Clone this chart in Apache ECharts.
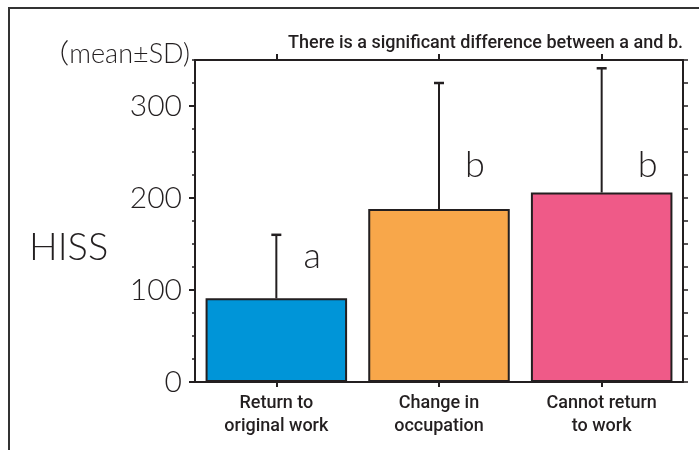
<!DOCTYPE html>
<html>
<head>
<meta charset="utf-8">
<script src="https://cdn.jsdelivr.net/npm/echarts@6/dist/echarts.min.js"></script>
<style>
  html, body { margin: 0; padding: 0; background: #fff; }
  #chart { width: 699px; height: 450px; }
</style>
</head>
<body>
<div id="chart"></div>
<script>
//--------------------------------
// Data
//--------------------------------
const categories = ['Return to\noriginal work', 'Change in\noccupation', 'Cannot return\nto work'];
const means = [91, 188, 206];
const sds = [69, 137, 135];
const letters = ['a', 'b', 'b'];
const letterAt = [137, 235, 235];
const barColors = ['#0095d8', '#f8a74a', '#ef5a88'];

//--------------------------------
// Styles
//--------------------------------
const ink = '#231f20';
const lightFont = 'Lato, "Noto Sans CJK JP", sans-serif';
const narrowFont = 'Roboto, sans-serif';

const myChart = echarts.init(document.getElementById('chart'), null, { renderer: 'canvas' });

const errorItem = (params, api) => {
    const i = api.value(0);
    const base = api.coord([i, api.value(1)]);
    const top = api.coord([i, api.value(1) + api.value(2)]);
    return {
        type: 'group',
        children: [
            { type: 'line', shape: { x1: base[0], y1: base[1], x2: top[0], y2: top[1] },
              style: { stroke: ink, lineWidth: 2 } },
            { type: 'line', shape: { x1: top[0] - 5, y1: top[1], x2: top[0] + 5, y2: top[1] },
              style: { stroke: ink, lineWidth: 2.5 } }
        ]
    };
};

const letterItem = (params, api) => {
    const p = api.coord([api.value(0), api.value(1)]);
    const off = [36, 36, 46][params.dataIndex];
    return {
        type: 'text',
        x: p[0] + off,
        y: p[1],
        style: {
            text: letters[params.dataIndex],
            fill: ink,
            font: '300 36px ' + lightFont,
            align: 'center',
            verticalAlign: 'middle'
        }
    };
};

let options = {
    animation: false,
    title: {
        text: 'There is a significant difference between a and b.',
        right: 11,
        top: 29,
        textStyle: { fontFamily: narrowFont, fontSize: 18, fontWeight: 500, color: ink }
    },
    graphic: [
        { type: 'rect', shape: { x: 9, y: 8, width: 720, height: 470 },
          style: { fill: 'none', stroke: '#333', lineWidth: 2 } },
        { type: 'text', left: 29, top: 229,
          style: { text: 'HISS', fill: ink, font: '300 38px ' + lightFont } }
    ],
    grid: { left: 195, top: 60, width: 488, height: 322 },
    xAxis: [
        {
            type: 'category',
            position: 'bottom',
            data: categories,
            axisLine: { show: true, lineStyle: { color: ink, width: 2 } },
            axisTick: { show: true, alignWithLabel: true, length: 5, lineStyle: { color: ink, width: 2 } },
            axisLabel: { fontFamily: narrowFont, fontWeight: 500, fontSize: 18, color: ink, lineHeight: 23, margin: 10 }
        },
        {
            type: 'category',
            position: 'top',
            data: categories,
            axisLine: { show: true, onZero: false, lineStyle: { color: ink, width: 2 } },
            axisTick: { show: true, alignWithLabel: true, length: 6, lineStyle: { color: ink, width: 2 } },
            axisLabel: { show: false }
        }
    ],
    yAxis: [
        {
            type: 'value',
            position: 'left',
            min: 0,
            max: 350,
            interval: 100,
            name: '（mean±SD)',
            nameLocation: 'end',
            nameGap: 6,
            nameTextStyle: { fontFamily: lightFont, fontWeight: 300, fontSize: 27, color: ink,
                             align: 'right', verticalAlign: 'middle', padding: [0, 5, 0, 0] },
            axisLine: { show: true, lineStyle: { color: ink, width: 2 } },
            axisTick: { show: true, length: 6, lineStyle: { color: ink, width: 2 } },
            axisLabel: { showMaxLabel: false, fontFamily: lightFont, fontWeight: 300, fontSize: 30, color: ink, margin: 13 },
            splitLine: { show: false }
        },
        {
            type: 'value',
            position: 'left',
            min: 0,
            max: 350,
            interval: 25,
            axisLine: { show: false },
            axisTick: { show: true, length: 3, lineStyle: { color: ink, width: 1.5 } },
            axisLabel: { show: false },
            splitLine: { show: false }
        },
        {
            type: 'value',
            position: 'right',
            min: 0,
            max: 350,
            interval: 25,
            axisLine: { show: true, lineStyle: { color: ink, width: 2 } },
            axisTick: { show: true, length: 5, lineStyle: { color: ink, width: 1.5 } },
            axisLabel: { show: false },
            splitLine: { show: false }
        }
    ],
    series: [
        {
            name: 'HISS',
            type: 'bar',
            barCategoryGap: '13%',
            itemStyle: { borderColor: ink, borderWidth: 2 },
            data: means.map((v, i) => ({ value: v, itemStyle: { color: barColors[i] } })),
            z: 2
        },
        {
            name: 'SD',
            type: 'custom',
            renderItem: errorItem,
            data: means.map((v, i) => [i, v, sds[i]]),
            z: 3
        },
        {
            name: 'group',
            type: 'custom',
            renderItem: letterItem,
            data: letterAt.map((v, i) => [i, v]),
            z: 3
        }
    ]
};
myChart.setOption(options);
</script>
</body>
</html>
